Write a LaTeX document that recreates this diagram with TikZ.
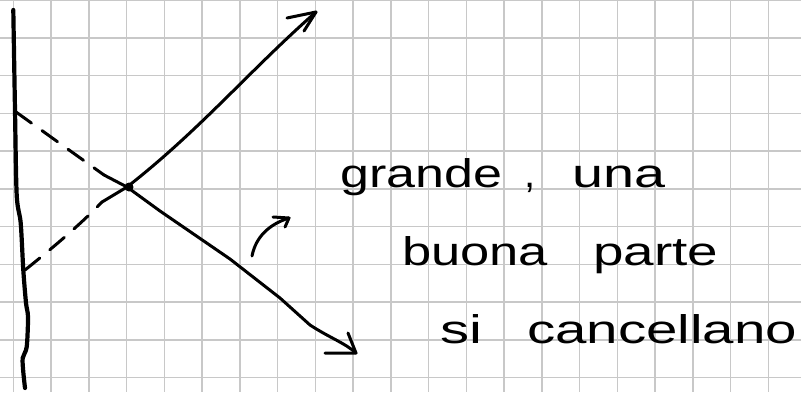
\documentclass[tikz,border=0pt]{standalone}
\usepackage{fontspec}
\setmainfont{Liberation Sans}
\usepackage{graphicx}
\definecolor{gridgray}{RGB}{200,200,200}
\begin{document}
\begin{tikzpicture}[x=1pt,y=-1pt,
  gridl/.style={draw=gridgray, line width=1.5pt},
  ink/.style={draw=black, line width=3pt, line cap=round, line join=round},
  wall/.style={ink, line width=4.2pt},
  dashink/.style={ink, dash pattern=on 19pt off 13pt},
  hw/.style={font=\fontsize{40}{40}\selectfont, inner sep=0pt, anchor=base west, text=black}]
\useasboundingbox (0,0) rectangle (801,392);
\fill[white] (0,0) rectangle (801,392);
% grid
\foreach \i in {0,...,20} \draw[gridl] ({13.3+37.75*\i},0) -- ({13.3+37.75*\i},392);
\foreach \j in {0,...,10} \draw[gridl] (0,{37.75*\j}) -- (801,{37.75*\j});
% key points
\coordinate (O) at (127,187);
\coordinate (wa) at (16,112);
\coordinate (wb) at (25,270);
\coordinate (ua) at (104,175);
\coordinate (lb) at (102,202);
\coordinate (tipU) at (316,12);
\coordinate (tipD) at (356,353);
\coordinate (cs) at (252,256);
\coordinate (ce) at (289,218);
% wall
\draw[wall] plot[smooth] coordinates {(13.3,10) (15,110) (16.7,195) (20.7,223) (23.3,270) (26,303) (28,317) (26.7,347) (22.7,358) (23.3,372) (25,388)};
% dashed reflections
\draw[dashink] (wa) -- (ua);
\draw[dashink] (wb) .. controls (50,250) and (80,225) .. (lb);
% solid rays
\draw[ink] (lb) -- (O) .. controls (200,130) and (250,70) .. (tipU);
\draw[ink] (ua) -- (O) -- (160,211) -- (230,259) -- (280,298) -- (310,325) .. controls (330,338) and (345,343) .. (tipD);
% arrowheads
\draw[ink] (287,18) -- (tipU) -- (304,31);
\draw[ink] (325,353) -- (tipD) -- (348,333);
% dot
\fill[black] (129,187) circle (4.5);
% small curved arrow
\draw[ink] (cs) .. controls (256,236) and (270,224) .. (ce);
\draw[ink] (273,217) -- (ce) -- (285,227);
% text
\node[hw] (t1) at (340,187) {\resizebox{162pt}{\height}{grande}};
\node[hw] (t2) at (524,187) {,};
\node[hw] (t3) at (572,187) {\resizebox{93pt}{\height}{una}};
\node[hw] (t4) at (402,265) {\resizebox{146pt}{\height}{buona}};
\node[hw] (t5) at (593,265) {\resizebox{125pt}{\height}{parte}};
\node[hw] (t6) at (440,343) {\resizebox{42pt}{\height}{si}};
\node[hw] (t7) at (527,343) {\resizebox{270pt}{\height}{cancellano}};
\end{tikzpicture}
\end{document}
